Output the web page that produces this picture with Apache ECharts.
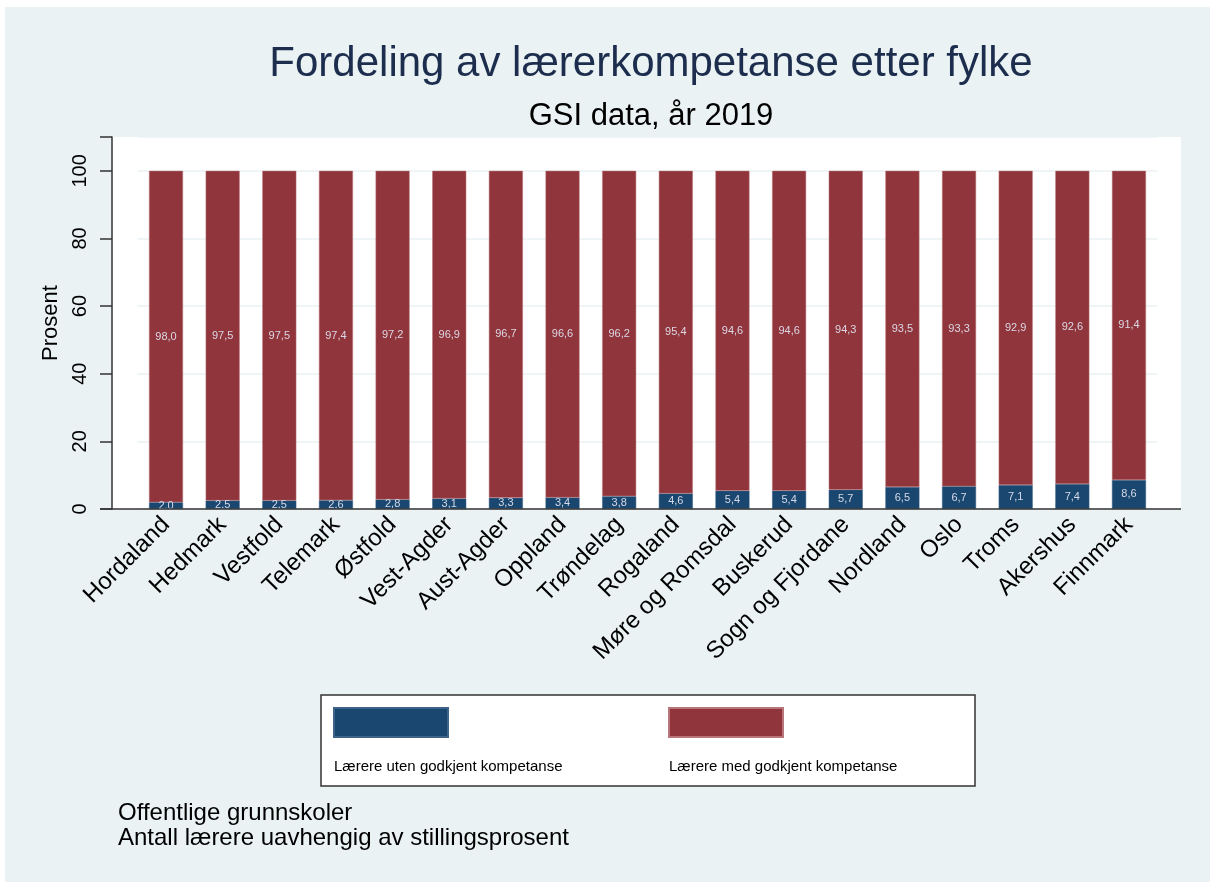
<!DOCTYPE html>
<html>
<head>
<meta charset="utf-8">
<script src="https://cdn.jsdelivr.net/npm/echarts@6/dist/echarts.min.js"></script>
<style>
  html, body { margin: 0; padding: 0; background: #ffffff; }
  #chart { width: 1210px; height: 882px; }
</style>
</head>
<body>
<div id="chart"></div>
<script>
// fylker, sortert etter andel uten godkjent kompetanse
const fylker = ['Hordaland', 'Hedmark', 'Vestfold', 'Telemark', 'Østfold', 'Vest-Agder',
  'Aust-Agder', 'Oppland', 'Trøndelag', 'Rogaland', 'Møre og Romsdal', 'Buskerud',
  'Sogn og Fjordane', 'Nordland', 'Oslo', 'Troms', 'Akershus', 'Finnmark'];
const utenKompetanse = [2.0, 2.5, 2.5, 2.6, 2.8, 3.1, 3.3, 3.4, 3.8, 4.6, 5.4, 5.4, 5.7, 6.5, 6.7, 7.1, 7.4, 8.6];
const medKompetanse = [98.0, 97.5, 97.5, 97.4, 97.2, 96.9, 96.7, 96.6, 96.2, 95.4, 94.6, 94.6, 94.3, 93.5, 93.3, 92.9, 92.6, 91.4];
const yTicks = [0, 20, 40, 60, 80, 100];

const chart = echarts.init(document.getElementById('chart'));
const font = 'Liberation Sans, Arial, sans-serif';

// norsk desimalkomma
const komma = (p) => p.value.toFixed(1).replace('.', ',');

// legendetekst under fargefeltet (tom første linje skyver teksten ned)
const legendText = { fontSize: 15, color: '#000', lineHeight: 89, padding: [0, 0, 0, -119], fontFamily: font };

const options = {
    textStyle: { fontFamily: font },
    animation: false,
    title: [
        {
            text: 'Fordeling av lærerkompetanse etter fylke',
            left: 646, top: 38, textAlign: 'center',
            textStyle: { fontSize: 42, fontWeight: 'normal', color: '#1c2d4e', fontFamily: font },
        },
        {
            text: 'GSI data, år 2019',
            left: 646, top: 96, textAlign: 'center',
            textStyle: { fontSize: 31, fontWeight: 'normal', color: '#000', fontFamily: font },
        },
        {
            text: 'Offentlige grunnskoler\nAntall lærere uavhengig av stillingsprosent',
            left: 118, top: 801, padding: 0,
            textStyle: { fontSize: 24, fontWeight: 'normal', color: '#000', lineHeight: 25, fontFamily: font },
        },
    ],
    graphic: [
        // bakgrunn og plottflate
        { type: 'rect', z: -100, shape: { x: 5, y: 7, width: 1205, height: 875 }, style: { fill: '#eaf2f3' } },
        { type: 'rect', z: -90, shape: { x: 112, y: 137, width: 1069, height: 372 }, style: { fill: '#ffffff' } },
        // legendeboks
        { type: 'rect', z: -50, shape: { x: 321, y: 695, width: 654, height: 91 },
          style: { fill: '#ffffff', stroke: '#333', lineWidth: 1.5 } },
        // x-akselinje over hele bredden
        { type: 'line', z: 50, shape: { x1: 100, y1: 509, x2: 1181, y2: 509 }, style: { stroke: '#333', lineWidth: 1.5 } },
    ],
    legend: [
        {
            data: ['Lærere uten godkjent kompetanse'],
            left: 333, top: 633.5, padding: 0,
            icon: 'rect', itemWidth: 114, itemHeight: 29,
            formatter: (n) => '\n' + n,
            textStyle: legendText,
        },
        {
            data: ['Lærere med godkjent kompetanse'],
            left: 668, top: 633.5, padding: 0,
            icon: 'rect', itemWidth: 114, itemHeight: 29,
            formatter: (n) => '\n' + n,
            textStyle: legendText,
        },
    ],
    grid: {
        left: 137.7,
        right: 52.7,
        top: 137,
        bottom: 373,
        containLabel: false,
    },
    xAxis: {
        type: 'category',
        data: fylker,
        axisLine: { show: false },
        axisTick: { show: false },
        axisLabel: {
            interval: 0,
            rotate: 45,
            margin: 12,
            fontSize: 24,
            color: '#000',
            fontFamily: font,
        },
    },
    yAxis: {
        type: 'value',
        min: 0,
        max: 110,
        interval: 20,
        offset: 25.7,
        name: 'Prosent',
        nameLocation: 'middle',
        nameGap: 49,
        nameTextStyle: { fontSize: 22, color: '#000', fontFamily: font },
        axisLine: { show: true, lineStyle: { color: '#333', width: 1.5 } },
        axisTick: { show: true, length: 12, lineStyle: { color: '#333', width: 1.5 } },
        splitLine: { show: true, lineStyle: { color: '#eaf2f3', width: 1.5 } },
        axisLabel: {
            rotate: 90,
            margin: 22,
            fontSize: 20,
            color: '#000',
            fontFamily: font,
            formatter: (v) => (yTicks.includes(v) ? String(v) : ''),
        },
    },
    series: [
        {
            name: 'Lærere uten godkjent kompetanse',
            type: 'bar',
            stack: 'total',
            barWidth: 34,
            data: utenKompetanse,
            itemStyle: { color: '#1a476f', borderColor: '#3d6388', borderWidth: 0.5 },
            label: { show: true, position: 'inside', formatter: komma, fontSize: 11, color: '#d6d9e8' },
        },
        {
            name: 'Lærere med godkjent kompetanse',
            type: 'bar',
            stack: 'total',
            barWidth: 34,
            data: medKompetanse,
            itemStyle: { color: '#90353b', borderColor: '#b8767b', borderWidth: 0.5 },
            label: { show: true, position: 'inside', formatter: komma, fontSize: 11, color: '#dcd8e6' },
        },
    ],
};

chart.setOption(options);
</script>
</body>
</html>
